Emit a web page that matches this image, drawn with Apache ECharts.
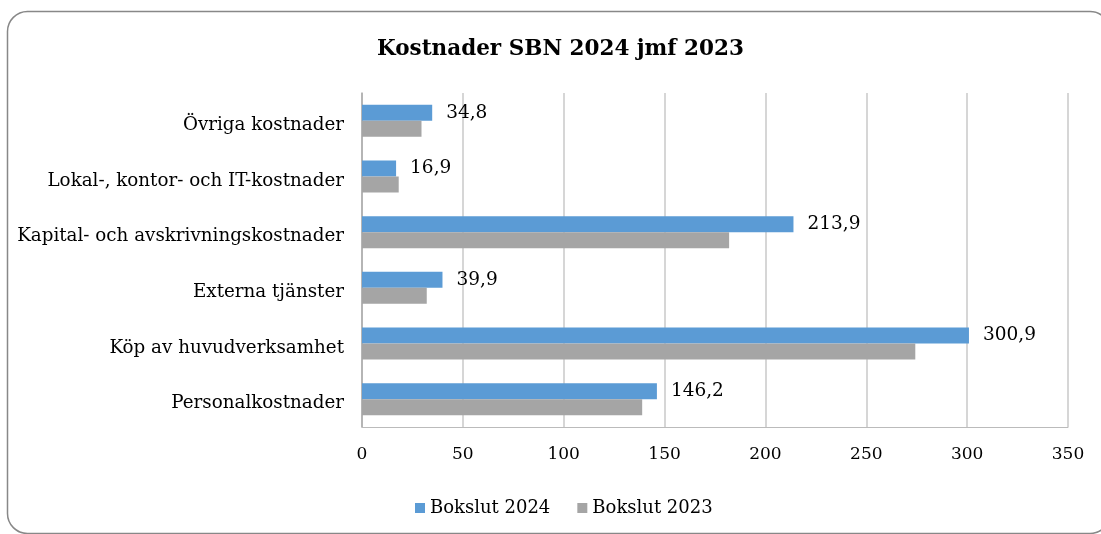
<!DOCTYPE html>
<html>
<head>
<meta charset="utf-8">
<script src="https://cdn.jsdelivr.net/npm/echarts@6/dist/echarts.min.js"></script>
<style>
  html, body { margin: 0; padding: 0; background: #fff; }
  #chart { width: 1101px; height: 534px; }
</style>
</head>
<body>
<div id="chart"></div>
<script>
// categories bottom -> top (ECharts category y axis starts at bottom)
const categories = [
  'Personalkostnader',
  'Köp av huvudverksamhet',
  'Externa tjänster',
  'Kapital- och avskrivningskostnader',
  'Lokal-, kontor- och IT-kostnader',
  'Övriga kostnader'
]
const bokslut2024 = [146.2, 300.9, 39.9, 213.9, 16.9, 34.8]
const bokslut2023 = [138.9, 274.3, 32.1, 182.0, 18.2, 29.5]
const xTicks = { min: 0, max: 350, interval: 50 }

const font = '"DejaVu Serif", serif'
const chart = echarts.init(document.getElementById('chart'))

const option = {
  animation: false,
  backgroundColor: '#fff',
  textStyle: { fontFamily: font, color: '#000' },
  title: {
    text: 'Kostnader SBN 2024 jmf 2023',
    left: 372,
    top: 33,
    textStyle: { fontFamily: font, fontSize: 21.5, fontWeight: 'bold', color: '#000' }
  },
  graphic: [{
    type: 'rect',
    shape: { x: 7.5, y: 11.5, width: 1102.5, height: 522, r: 20 },
    style: { fill: null, stroke: '#888', lineWidth: 1.5 },
    silent: true
  }],
  legend: {
    top: 494,
    left: 410,
    itemWidth: 10,
    itemHeight: 10,
    itemGap: 27,
    icon: 'rect',
    textStyle: { fontFamily: font, fontSize: 18, color: '#000' },
    data: ['Bokslut 2024', 'Bokslut 2023']
  },
  grid: { left: 362, right: 33, top: 93, bottom: 107, containLabel: false },
  xAxis: {
    type: 'value',
    min: xTicks.min,
    max: xTicks.max,
    interval: xTicks.interval,
    axisLine: { show: true, lineStyle: { color: '#bbb' } },
    axisTick: { show: false },
    axisLabel: { fontFamily: font, fontSize: 17, color: '#000', margin: 19 },
    splitLine: { lineStyle: { color: '#c8c8c8', width: 1.5 } }
  },
  yAxis: {
    type: 'category',
    data: categories,
    axisLine: { lineStyle: { color: '#aaa', width: 1.5 } },
    axisTick: { show: false },
    axisLabel: {
      margin: 18,
      formatter: v => `{c|${v}}`,
      rich: {
        c: { fontFamily: font, fontSize: 18.3, color: '#000', padding: [9, 0, 0, 0] }
      }
    }
  },
  series: [
    {
      name: 'Bokslut 2024',
      type: 'bar',
      data: bokslut2024,
      barWidth: 16,
      barGap: '0%',
      barCategoryGap: '43%',
      itemStyle: { color: '#5b9bd5' },
      label: {
        show: true,
        position: 'right',
        distance: 14,
        fontFamily: font,
        fontSize: 18.5,
        color: '#000',
        formatter: p => String(p.value).replace('.', ',')
      }
    },
    {
      name: 'Bokslut 2023',
      type: 'bar',
      data: bokslut2023,
      barWidth: 16,
      barGap: '0%',
      itemStyle: { color: '#a5a5a5' }
    }
  ]
}

chart.setOption(option)
window.addEventListener('resize', () => chart.resize())
</script>
</body>
</html>
